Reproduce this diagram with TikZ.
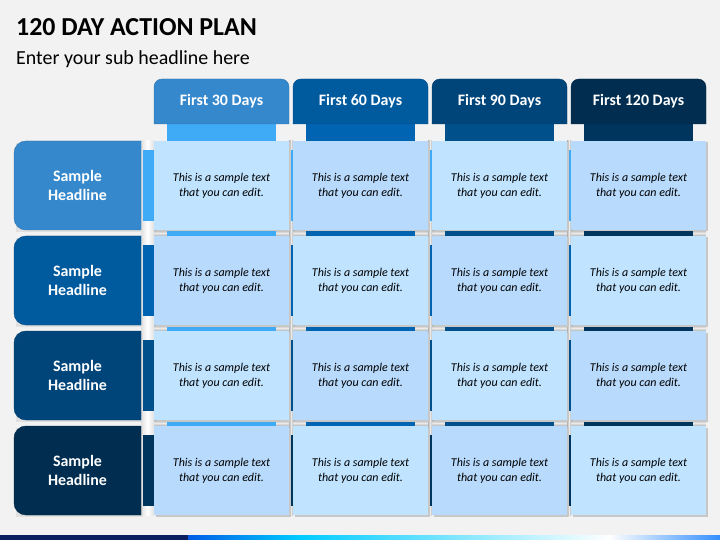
\documentclass[tikz,border=0pt]{standalone}
\usepackage{fontspec}
\setmainfont{Carlito}
\definecolor{bgc}{HTML}{F2F2F2}
\definecolor{tone1}{HTML}{3588CC}
\definecolor{tone2}{HTML}{005A9E}
\definecolor{tone3}{HTML}{00457A}
\definecolor{tone4}{HTML}{002D50}
\definecolor{strip1}{HTML}{3FAAF6}
\definecolor{strip2}{HTML}{0064B2}
\definecolor{strip3}{HTML}{00508C}
\definecolor{strip4}{HTML}{00365E}
\definecolor{cellA}{HTML}{C0E4FF}
\definecolor{cellB}{HTML}{B8DAFC}
\definecolor{navy}{HTML}{0B1F5E}
\tikzset{
  cell/.style={minimum width=135bp, minimum height=89bp, inner sep=0pt, align=center,
    font=\fontsize{12}{15}\selectfont\itshape},
  headtext/.style={text=white, align=center, inner sep=0pt,
    font=\fontsize{16}{19}\selectfont\bfseries},
  hbar/.style={top color=black!30, bottom color=black!30, middle color=black!8},
  vbar/.style={left color=black!30, right color=black!30, middle color=black!8},
}
\begin{document}
\begin{tikzpicture}[x=1bp,y=-1bp]
\useasboundingbox (0,0) rectangle (720,540);
\fill[bgc] (0,0) rectangle (720,540);
% title
\node[anchor=base west, inner sep=0pt, font=\fontsize{26}{30}\selectfont\bfseries] (title) at (16,36) {120 DAY ACTION PLAN};
\node[anchor=base west, inner sep=0pt, font=\fontsize{20}{24}\selectfont] (sub) at (16,65) {Enter your sub headline here};
% gray grid
\foreach \i in {1,2,3}
  \path[hbar] (141,{230+95*(\i-1)}) rectangle (706,{236+95*(\i-1)});
\path[left color=black!12, right color=black!12, middle color=white] (141,141) rectangle (154,515);
\foreach \j in {1,2,3}
  \path[vbar] ({289+139*(\j-1)},141) rectangle ({293+139*(\j-1)},515);
% columns
\foreach \j/\lab in {1/First 30 Days, 2/First 60 Days, 3/First 90 Days, 4/First 120 Days} {
  \pgfmathsetmacro\xl{154+139*(\j-1)}
  \fill[strip\j] (\xl+13,124) rectangle (\xl+122,505);
  \filldraw[fill=tone\j, draw=tone\j!85!black] (\xl,124) [rounded corners=8] -- (\xl,79) -- (\xl+135,79) [sharp corners] -- (\xl+135,124) -- cycle;
  \node[headtext] (col\j) at (\xl+67.5,101.5) {\lab};
}
% rows
\foreach \i in {1,...,4} {
  \pgfmathsetmacro\yt{141+95*(\i-1)}
  \fill[strip\i] (141,\yt+9) rectangle (700,\yt+80);
  \fill[black!12] (16,\yt+2) rectangle (143,\yt+91);
  \filldraw[fill=tone\i, draw=tone\i!85!black] (141,\yt+89) -- (141,\yt) [rounded corners=12] -- (14,\yt) -- (14,\yt+89) [sharp corners] -- cycle;
  \node[headtext] (row\i) at (77.5,\yt+44.5) {Sample\\Headline};
}
% cells
\foreach \i in {1,...,4}
  \foreach \j in {1,...,4} {
    \pgfmathtruncatemacro\k{mod(\i+\j,2)}
    \ifnum\k=0 \def\cc{cellA}\else\def\cc{cellB}\fi
    \fill[black!22] ({155.5+139*(\j-1)},{142.5+95*(\i-1)}) rectangle +(135,89);
    \node[cell, fill=\cc] (t\i\j) at ({221.5+139*(\j-1)},{185.5+95*(\i-1)}) {This is a sample text\\that you can edit.};
  }
% bottom band
\fill[navy] (0,535) rectangle (188,540);
\shade[left color=blue!60!cyan!90!black, right color=cyan!80!blue] (188,535) rectangle (300,540);
\shade[left color=cyan!80!blue, right color=white] (299.5,535) rectangle (610,540);
\shade[left color=white, right color=cyan!45!blue!80] (609.5,535) rectangle (720,540);
\end{tikzpicture}
\end{document}
